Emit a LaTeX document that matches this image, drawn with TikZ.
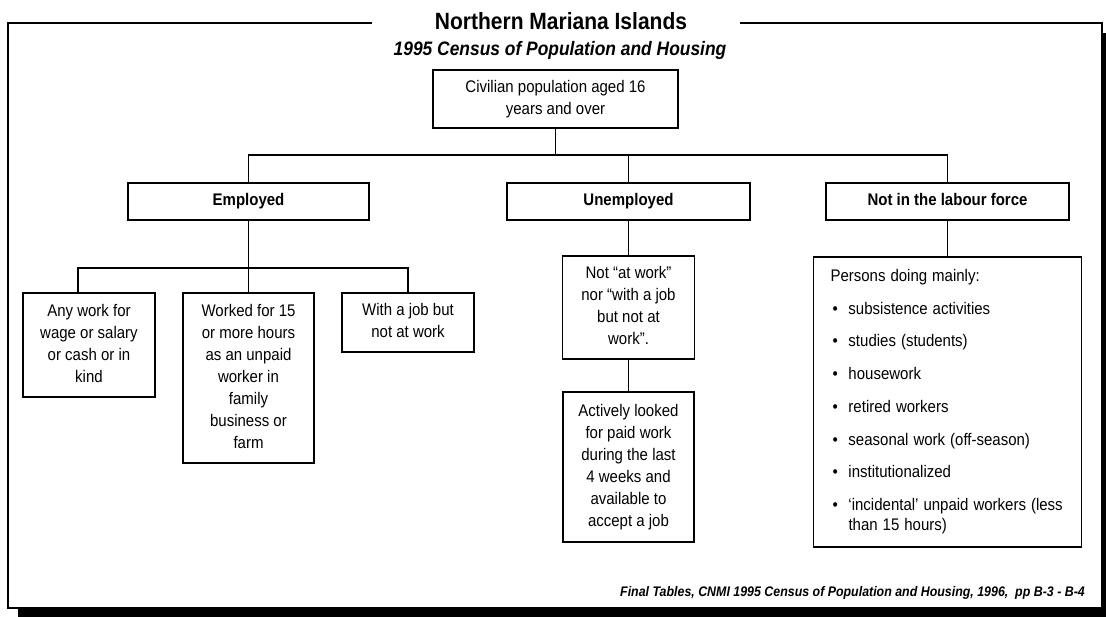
\documentclass[tikz,border=0pt]{standalone}
\usepackage{fontspec}
\setmainfont{Liberation Sans}
\usepackage{graphicx}
\usetikzlibrary{calc}
\newcommand{\vtext}[1]{\scalebox{1}[1.12]{\begin{tabular}{@{}c@{}}#1\end{tabular}}}
\newcommand{\bodyfont}{\fontsize{15}{19.6}\selectfont}
\newcommand{\bul}{\makebox[18pt][l]{\hspace{2pt}\textbullet}}
\begin{document}
\begin{tikzpicture}[x=1pt,y=-1pt,
  box/.style={draw, line width=1.9pt, fill=white, inner sep=0pt, align=center, font=\bodyfont},
  head/.style={box, font=\bodyfont\bfseries},
  conn/.style={line width=1.9pt},
  frame/.style={line width=2pt}]
\useasboundingbox (0,0) rectangle (1106,617);
\begin{scope}
\clip (0,0) rectangle (1106,617);
\fill[black] (18,33) rectangle (1113,619);
\end{scope}
\fill[white] (8,23) rectangle (1102,608);
\draw[frame] (372,23) -- (8,23) -- (8,608) -- (1102,608) -- (1102,23) -- (740,23);

\node[font=\bfseries\fontsize{21}{24}\selectfont] (title) at (561,21.5) {\scalebox{1}[1.12]{Northern Mariana Islands}};
\node[font=\bfseries\itshape\fontsize{17.4}{20}\selectfont] (sub) at (560,50) {\scalebox{1}[1.12]{1995 Census of Population and Housing}};

\node[box, minimum width=245pt, minimum height=58pt] (top) at (555.5,99) {\vtext{Civilian population aged 16\\years and over}};

\node[head, minimum width=241pt, minimum height=37pt] (emp) at (248.5,201.5) {\vtext{Employed}};
\node[head, minimum width=243pt, minimum height=37pt] (unemp) at (628.5,201.5) {\vtext{Unemployed}};
\node[head, minimum width=243pt, minimum height=37pt] (nilf) at (947.5,201.5) {\vtext{Not in the labour force}};

\node[box, minimum width=132pt, minimum height=104pt] (b1) at (89,345) {\vtext{Any work for\\wage or salary\\or cash or in\\kind}};
\node[box, minimum width=131pt, minimum height=170pt] (b2) at (248.5,378) {\vtext{Worked for 15\\or more hours\\as an unpaid\\worker in\\family\\business or\\farm}};
\node[box, minimum width=132pt, minimum height=59pt] (b3) at (408,322.5) {\vtext{With a job but\\not at work}};

\node[box, minimum width=132pt, minimum height=103pt] (u1) at (628.5,307.5) {\vtext{Not “at work”\\nor “with a job\\but not at\\work”.}};
\node[box, minimum width=131pt, minimum height=150pt] (u2) at (628.5,467) {\vtext{Actively looked\\for paid work\\during the last\\4 weeks and\\available to\\accept a job}};

\node[box, minimum width=268pt, minimum height=290pt, text width=234pt, align=left] (nl) at (947.5,402) {\raisebox{-2.5pt}{\scalebox{1}[1.12]{\fontsize{15}{17.9}\selectfont\begin{tabular}{@{}l@{}}
Persons doing mainly:\\[11.3pt]
\bul subsistence activities\\[11.3pt]
\bul studies (students)\\[11.3pt]
\bul housework\\[11.3pt]
\bul retired workers\\[11.3pt]
\bul seasonal work (off-season)\\[11.3pt]
\bul institutionalized\\[11.3pt]
\bul ‘incidental’ unpaid workers (less\\
\hspace*{18pt}than 15 hours)
\end{tabular}}}};

\node[anchor=east, inner sep=0pt, font=\bfseries\itshape\fontsize{12.4}{14}\selectfont] (cap) at (1085,593) {\scalebox{1}[1.12]{Final Tables, CNMI 1995 Census of Population and Housing, 1996,\ \ pp B-3 - B-4}};

\coordinate (j1) at (555.5,155);
\draw[conn] (top.south) -- (j1);
\draw[conn] (emp.north) |- (j1) -| (nilf.north);
\draw[conn] (unemp.north) -- (unemp.north |- j1);
\coordinate (j2) at (248.5,268);
\draw[conn] (emp.south) -- (j2);
\draw[conn] ([xshift=-11pt]b1.north) |- (j2) -| (b3.north);
\draw[conn] (b2.north) -- (j2);
\draw[conn] (unemp.south) -- (u1.north);
\draw[conn] (u1.south) -- (u2.north);
\draw[conn] (nilf.south) -- (nl.north);
\end{tikzpicture}
\end{document}
